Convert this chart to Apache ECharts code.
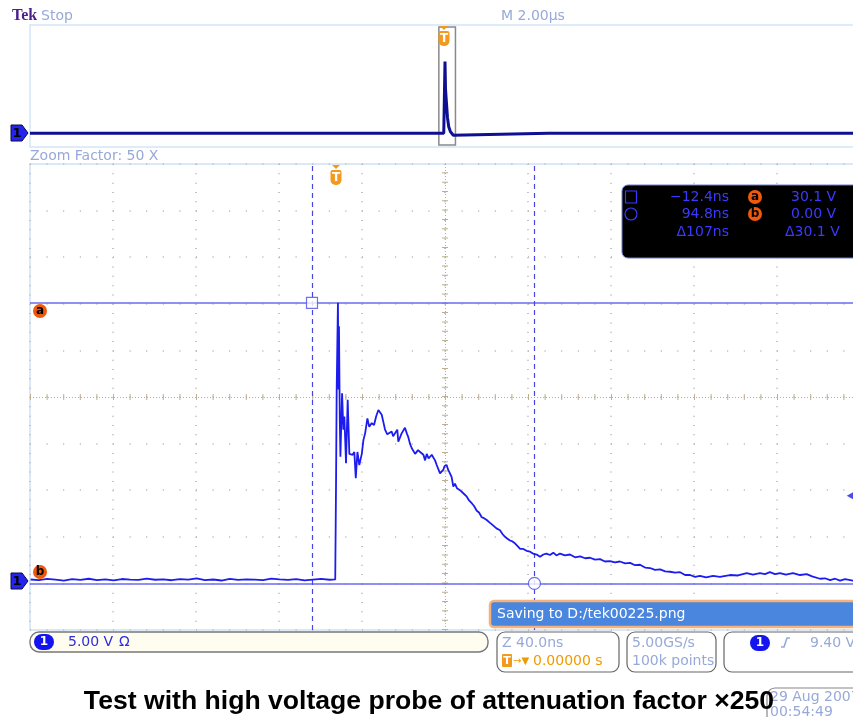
<!DOCTYPE html>
<html>
<head>
<meta charset="utf-8">
<title>Tek DPO capture</title>
<script src="https://cdn.jsdelivr.net/npm/echarts@6/dist/echarts.min.js"></script>
<style>
html, body { margin: 0; padding: 0; background: #fff; }
#scope { width: 853px; height: 717px; }
</style>
</head>
<body>
<div id="scope"></div>
<script>
// zoomed trace, [time ns, volts]
var mainTrace = [
  [-148,0.42],[-144,0.35],[-140,0.48],[-136,0.40],[-132,0.30],[-128,0.45],[-124,0.38],[-120,0.50],[-116,0.36],[-112,0.44],
  [-108,0.32],[-104,0.47],[-100,0.41],[-96,0.37],[-92,0.52],[-88,0.39],[-84,0.43],[-80,0.34],[-76,0.46],[-72,0.40],
  [-68,0.55],[-64,0.36],[-60,0.42],[-56,0.31],[-52,0.49],[-48,0.38],[-44,0.44],[-40,0.40],[-36,0.35],[-32,0.51],
  [-28,0.43],[-24,0.37],[-20,0.46],[-16,0.33],[-12,0.41],[-8,0.48],[-4,0.39],
  [-1.2,0.43],[-0.8,11.1],[-0.5,20.8],[0.1,30.1],[0.4,20.8],[0.6,27.6],[1.0,17.5],[1.3,13.6],[2.1,20.4],[2.7,16.5],
  [3.2,17.9],[4.0,12.9],[4.8,19.7],[5.6,13.9],[6.4,14.1],[7.2,13.8],[8.0,14.1],[8.7,11.3],[9.5,14.1],[10.4,12.7],
  [11.6,13.9],[12.4,15.4],[13.2,16.1],[14.3,17.7],[15.2,16.8],[16.4,17.2],[17.5,17.0],[18.5,17.9],[19.6,18.6],[20.4,18.6],
  [21.2,18.1],[22.0,17.3],[22.8,16.5],[23.9,16.0],[24.4,15.9],[26.0,16.3],[26.7,15.8],[27.6,16.0],[28.7,16.5],[29.2,15.2],
  [29.7,15.4],[30.8,16.1],[32.4,16.7],[33.3,16.1],[34.0,15.7],[34.8,15.0],[35.7,14.5],[36.4,14.3],[37.3,13.9],[38.1,13.9],
  [38.7,14.3],[39.7,14.1],[41.3,13.8],[42.1,13.2],[42.9,13.9],[43.8,13.4],[44.5,13.6],[45.3,13.8],[46.1,13.6],[46.9,13.2],
  [47.7,12.7],[48.5,12.5],[49.3,11.8],[50.1,12.0],[50.9,12.2],[51.5,12.6],[52.5,12.7],[53.2,12.2],[54.1,11.8],[54.9,11.4],
  [55.7,10.4],[56.5,10.7],[57.5,10.2],[58.9,10.0],[60.4,9.7],[62.2,9.3],[63.3,8.9],[64.6,8.6],[65.7,8.3],[67.0,7.8],
  [68.1,7.6],[69.4,7.1],[70.5,7.0],[71.8,6.8],[73.4,6.5],[75.0,6.2],[76.5,5.9],[78.2,5.7],[79.4,5.3],[80.6,5.0],
  [81.8,4.8],[83.0,4.6],[84.2,4.5],[85.4,4.3],[86.7,4.0],[87.9,3.7],[89.4,3.7],[91.0,3.5],[92.7,3.4],[94.1,3.2],
  [95.9,3.1],[97.5,2.85],[99.1,3.1],[100.6,3.2],[102.3,3.05],[103.9,3.3],[105.4,3.0],[107.1,3.2],[109.5,3.0],[111.9,3.1],
  [114.4,2.8],[116.8,2.9],[119.2,2.7],[121.6,2.75],[124.0,2.55],[126.4,2.6],[128.8,2.35],[131.2,2.4],[133.6,2.25],[136.0,2.35],
  [138.5,2.15],[140.9,2.2],[143.3,1.95],[145.7,2.0],[148.1,1.7],[150.5,1.65],[152.9,1.45],[155.4,1.5],[157.8,1.3],[160.2,1.25],
  [162.6,1.15],[165.0,1.2],[167.4,0.9],[169.8,0.9],[172.2,0.7],[174.6,0.8],[177.5,0.65],[180.9,0.8],[184.2,0.7],[189.0,0.9],
  [192.9,0.85],[197.1,1.1],[200.1,0.95],[203.5,1.1],[205.9,1.0],[208.3,1.2],[210.7,1.0],[213.1,1.1],[216.0,0.95],[219.4,1.1],
  [222.8,0.9],[226.0,1.0],[228.6,0.75],[232.4,0.5],[234.8,0.55],[237.3,0.35],[239.7,0.5],[242.1,0.3],[244.5,0.45],[248.3,0.3],[251.7,0.35]
];

// overview record, [time us, volts]
var overviewTrace = [
  [-10,0.6],[-7.5,0.6],[-5,0.6],[-2.5,0.6],[-0.03,0.6],[-0.01,0.8],[0,30.0],[0.012,18.8],[0.03,14.3],
  [0.06,7.0],[0.09,3.3],[0.13,1.3],[0.17,0.6],[0.2,-0.2],[0.23,0.6],[2.5,0.6],[5,0.6],[7.5,0.6],[10,0.6]
];

var cursorTimesNs = [-12.4, 94.8];
var cursorVolts = [30.1, 0.00];
var triggerLevelV = 9.4;
var zoomWindowUs = [-0.148, 0.252];

var uiFont = '"DejaVu Sans", sans-serif';
var paleBlue = '#97a9d8';
var readoutBlue = '#3a3aff';
var cursorBlue = '#6a6af0';
var dotColor = '#c2c2c2';
var centerColor = '#bdb092';

var chart = echarts.init(document.getElementById('scope'));

function txt(x, y, s, color, size, extra) {
  var st = { x: x, y: y, text: s, fill: color, font: (size || 14) + 'px ' + uiFont, textVerticalAlign: 'middle' };
  if (extra) { for (var k in extra) st[k] = extra[k]; }
  return { type: 'text', style: st, z: 20 };
}
function box(x, y, w, h, r, fill, stroke, lw) {
  return { type: 'rect', shape: { x: x, y: y, width: w, height: h, r: r },
    style: { fill: fill, stroke: stroke, lineWidth: lw || 1.2 }, z: 10 };
}
function badge(cx, cy, letter) {
  return [
    { type: 'circle', shape: { cx: cx, cy: cy, r: 7 }, style: { fill: '#f0580c' }, z: 20 },
    { type: 'text', style: { x: cx, y: cy, text: letter, fill: '#000', font: 'bold 12px ' + uiFont, textAlign: 'center', textVerticalAlign: 'middle' }, z: 21 }
  ];
}
function chanMarker(y) {
  return [
    { type: 'polygon', shape: { points: [[11, y - 8], [22, y - 8], [28, y], [22, y + 8], [11, y + 8]] },
      style: { fill: '#2424f0', stroke: '#0a0a40', lineWidth: 1 }, z: 20 },
    { type: 'text', style: { x: 17, y: y + 1, text: '1', fill: '#000', font: 'bold 13px ' + uiFont, textAlign: 'center', textVerticalAlign: 'middle' }, z: 21 }
  ];
}
function trigMarker(cx, top) {
  return [
    { type: 'polygon', shape: { points: [[cx - 4, top], [cx + 4, top], [cx, top + 4]] }, style: { fill: '#f39a1e' }, z: 20 },
    { type: 'rect', shape: { x: cx - 5.5, y: top + 5, width: 11, height: 15, r: [2, 2, 5, 5] }, style: { fill: '#f39a1e' }, z: 20 },
    { type: 'text', style: { x: cx, y: top + 12.5, text: 'T', fill: '#fff', font: 'bold 12px ' + uiFont, textAlign: 'center', textVerticalAlign: 'middle' }, z: 21 }
  ];
}
function pill(cx, cy) {
  return [
    { type: 'rect', shape: { x: cx - 10, y: cy - 8, width: 20, height: 16, r: 8 }, style: { fill: '#1414ee' }, z: 20 },
    { type: 'text', style: { x: cx, y: cy, text: '1', fill: '#fff', font: 'bold 12px ' + uiFont, textAlign: 'center', textVerticalAlign: 'middle' }, z: 21 }
  ];
}

var graphics = [
  txt(12, 16, 'Tek', '#4b1e8c', 16, { font: 'bold 16px "Liberation Serif", serif' }),
  txt(41, 16, 'Stop', paleBlue, 14),
  txt(501, 16, 'M 2.00\u00b5s', paleBlue, 14),
  txt(30, 156, 'Zoom Factor: 50 X', paleBlue, 14),

  // measurement readout
  box(622, 185, 260, 73, 6, '#000', '#6f7fd0', 1),
  { type: 'rect', shape: { x: 625.5, y: 191, width: 11, height: 12 }, style: { fill: 'none', stroke: readoutBlue, lineWidth: 1.2 }, z: 20 },
  { type: 'circle', shape: { cx: 631, cy: 214, r: 6 }, style: { fill: 'none', stroke: readoutBlue, lineWidth: 1.2 }, z: 20 },
  txt(729, 197, '\u221212.4ns', readoutBlue, 14, { textAlign: 'right' }),
  txt(729, 214, '94.8ns', readoutBlue, 14, { textAlign: 'right' }),
  txt(729, 232, '\u0394107ns', readoutBlue, 14, { textAlign: 'right' }),
  txt(791, 197, '30.1 V', readoutBlue, 14),
  txt(791, 214, '0.00 V', readoutBlue, 14),
  txt(785, 232, '\u039430.1 V', readoutBlue, 14),

  // saving banner
  box(490, 601, 372, 26, 4, '#4a86dd', '#f5b27a', 2.5),
  txt(497, 614, 'Saving to D:/tek00225.png', '#fff', 14),

  // status bar
  box(30, 632, 458, 20, 9, '#fffdf0', '#777', 1.4),
  txt(68, 642, '5.00 V', '#2d2de0', 14),
  txt(119, 642, '\u03a9', '#2d2de0', 14),
  box(497, 632, 122, 40, 8, '#fff', '#666', 1.2),
  txt(502, 643, 'Z 40.0ns', paleBlue, 14),
  { type: 'rect', shape: { x: 502, y: 654, width: 10, height: 13, r: 1 }, style: { fill: '#f39a1e' }, z: 20 },
  txt(507, 661, 'T', '#fff', 11, { font: 'bold 11px ' + uiFont, textAlign: 'center' }),
  txt(513, 661, '\u2192\u25bc', '#f09a00', 10),
  txt(533, 661, '0.00000 s', '#f09a00', 14),
  box(627, 632, 89, 40, 8, '#fff', '#666', 1.2),
  txt(632, 643, '5.00GS/s', paleBlue, 14),
  txt(632, 661, '100k points', paleBlue, 14),
  box(724, 632, 150, 40, 8, '#fff', '#666', 1.2),
  { type: 'polyline', shape: { points: [[781, 647], [784, 647], [787, 638], [790, 638]] }, style: { stroke: paleBlue, lineWidth: 1.6, fill: null }, z: 20 },
  txt(810, 643, '9.40 V', paleBlue, 14),

  // date
  box(767, 688, 100, 40, 8, '#fff', '#888', 1.2),
  txt(770, 697, '29 Aug 2007', paleBlue, 14),
  txt(770, 712, '00:54:49', paleBlue, 14),

  // caption
  { type: 'text', z: 30, style: { x: 429, y: 702, text: 'Test with high voltage probe of attenuation factor \u00d7250',
      fill: '#000', font: 'bold 26.6px "Liberation Sans", Arial, sans-serif', textAlign: 'center', textVerticalAlign: 'middle' } }
];
graphics = graphics.concat(badge(755, 197, 'a'), badge(755, 214, 'b'), badge(40, 311, 'a'), badge(40, 572, 'b'),
  chanMarker(133), chanMarker(581), trigMarker(444, 26), trigMarker(336, 165), pill(44, 642), pill(760, 643));

var option = {
  animation: false,
  backgroundColor: '#fff',
  grid: [
    { left: 30, top: 25, width: 830, height: 122, show: true, borderColor: '#d4e5f7', borderWidth: 1.5, outerBoundsMode: 'none' },
    { left: 30, top: 164, width: 830, height: 466, show: true, borderColor: '#cfe1f6', borderWidth: 1.5, outerBoundsMode: 'none' }
  ],
  xAxis: [
    { gridIndex: 0, type: 'value', min: -10, max: 10, show: false },
    { gridIndex: 1, type: 'value', min: -148.3, max: 251.7, show: false },
    { gridIndex: 1, type: 'value', min: 0, max: 10, interval: 1,
      axisLine: { show: false }, axisTick: { show: false }, axisLabel: { show: false },
      splitLine: { show: true, lineStyle: { color: dotColor, width: 2, type: [1, 8.32] } } }
  ],
  yAxis: [
    { gridIndex: 0, type: 'value', min: -5, max: 45, show: false },
    { gridIndex: 1, type: 'value', min: -5, max: 45, show: false },
    { gridIndex: 1, type: 'value', min: 0, max: 10, interval: 1,
      axisLine: { show: false }, axisTick: { show: false }, axisLabel: { show: false },
      splitLine: { show: true, lineStyle: { color: dotColor, width: 2, type: [1, 15.6] } } }
  ],
  graphic: graphics,
  series: [
    {
      name: 'graticule', type: 'line', xAxisIndex: 2, yAxisIndex: 2, data: [[5, 5]], symbol: 'none', silent: true,
      lineStyle: { opacity: 0 },
      markLine: {
        silent: true, symbol: 'none', label: { show: false },
        data: [
          { xAxis: 5, lineStyle: { color: centerColor, width: 1, type: [1, 2] } },
          { xAxis: 5, lineStyle: { color: centerColor, width: 6, type: [1, 8.32] } },
          { yAxis: 5, lineStyle: { color: centerColor, width: 1, type: [1, 2] } },
          { yAxis: 5, lineStyle: { color: centerColor, width: 6, type: [1, 15.6] } }
        ]
      }
    },
    {
      name: 'overview', type: 'line', xAxisIndex: 0, yAxisIndex: 0, data: overviewTrace,
      symbol: 'none', lineStyle: { color: '#0f0f92', width: 3 },
      markArea: {
        silent: true,
        itemStyle: { color: 'rgba(0,0,0,0)', borderColor: '#8a8a8a', borderWidth: 1.5 },
        data: [[{ coord: [zoomWindowUs[0], 44.2] }, { coord: [zoomWindowUs[1], -4.2] }]]
      }
    },
    {
      name: 'CH1', type: 'line', xAxisIndex: 1, yAxisIndex: 1, data: mainTrace,
      symbol: 'none', lineStyle: { color: '#1c1cf0', width: 1.8 }, z: 5,
      markLine: {
        silent: true, symbol: 'none', label: { show: false },
        data: [
          { yAxis: cursorVolts[0], lineStyle: { color: cursorBlue, width: 1.5, type: 'solid' } },
          { yAxis: cursorVolts[1], lineStyle: { color: cursorBlue, width: 1.5, type: 'solid' } },
          { xAxis: cursorTimesNs[0], lineStyle: { color: '#4646e6', width: 1.2, type: [5, 4] } },
          { xAxis: cursorTimesNs[1], lineStyle: { color: '#4646e6', width: 1.2, type: [5, 4] } }
        ]
      }
    },
    {
      name: 'cursor a', type: 'scatter', xAxisIndex: 1, yAxisIndex: 1, z: 6,
      data: [[cursorTimesNs[0], cursorVolts[0]]], symbol: 'rect', symbolSize: 11,
      itemStyle: { color: '#fff', borderColor: '#4d4de8', borderWidth: 1.2 }
    },
    {
      name: 'cursor b', type: 'scatter', xAxisIndex: 1, yAxisIndex: 1, z: 6,
      data: [[cursorTimesNs[1], cursorVolts[1]]], symbol: 'circle', symbolSize: 12,
      itemStyle: { color: '#fff', borderColor: '#4d4de8', borderWidth: 1.2 }
    },
    {
      name: 'trigger level', type: 'scatter', xAxisIndex: 1, yAxisIndex: 1, z: 6,
      data: [[247, triggerLevelV]], symbol: 'triangle', symbolRotate: 90, symbolSize: [8, 7],
      itemStyle: { color: '#2020e8' }
    }
  ]
};

if (option && typeof option === 'object') {
  chart.setOption(option, true);
}
</script>
</body>
</html>
